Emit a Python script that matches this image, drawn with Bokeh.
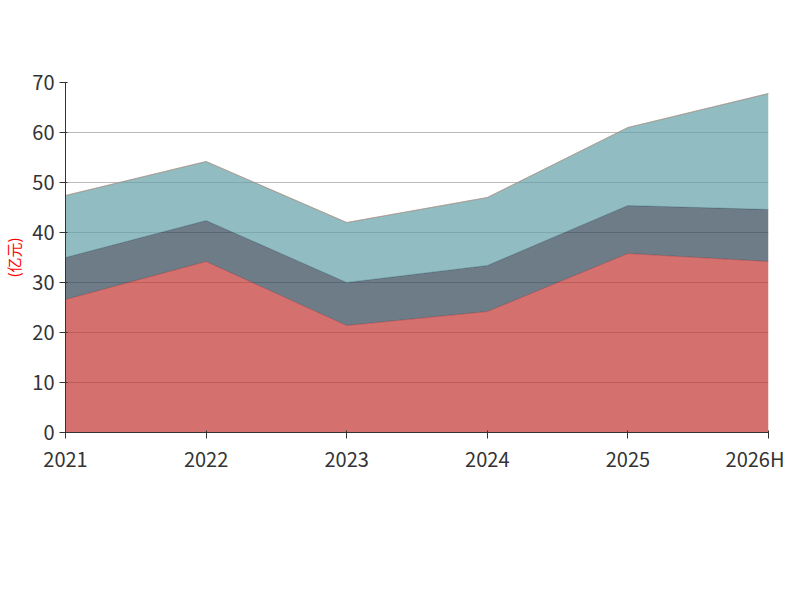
from bokeh.plotting import figure
from bokeh.models import Legend, LegendItem, Label, Range1d, FixedTicker
from bokeh.embed import file_html
from bokeh.resources import INLINE

years = ["2021", "2022", "2023", "2024", "2025", "2026H"]
kucun = [26.6, 34.2, 21.4, 24.2, 35.8, 34.2]
yuancailiao = [8.4, 8.2, 8.6, 9.2, 9.6, 10.4]
zaichanpin = [12.4, 11.8, 12.0, 13.6, 15.6, 23.2]
zhouzhuan = [0.0, 0.0, 0.0, 0.0, 0.0, 0.0]
names = ["库存商品", "原材料", "在产品", "周转材料"]
colors = ["#c23531", "#2f4554", "#61a0a8", "#d48265"]

x = list(range(len(years)))
font = "Noto Sans CJK SC"

p = figure(width=784, height=584, output_backend="svg", toolbar_location=None,
           x_range=Range1d(0, 5), y_range=Range1d(0, 70),
           min_border_left=60, min_border_right=16, min_border_top=82, min_border_bottom=152)
p.outline_line_color = None

series = [kucun, yuancailiao, zaichanpin, zhouzhuan]
base = [0.0] * len(x)
for vals, c in zip(series, colors):
    top = [b + v for b, v in zip(base, vals)]
    p.varea(x=x, y1=base, y2=top, fill_color=c, fill_alpha=0.7)
    p.line(x=x, y=top, line_color=c, line_alpha=0.5, line_width=1)
    base = top

p.add_layout(Label(x=332, y=414, x_units="screen", y_units="screen", text="近年存货变化堆积图",
                   text_align="center", text_baseline="middle", text_font=font,
                   text_font_size="30px", text_font_style="bold", text_color="#333333"))
p.add_layout(Label(x=332, y=-150, x_units="screen", y_units="screen", text="制图数据来自恒生聚源数据库",
                   text_align="center", text_baseline="middle", text_font=font,
                   text_font_size="15px", text_color="#c8941e"))

items = []
for n, c in zip(names, colors):
    r1 = p.line(x=[float("nan")], y=[float("nan")], line_color=c, line_width=2)
    r2 = p.scatter(x=[float("nan")], y=[float("nan")], size=22, fill_color=c, line_color=c)
    items.append(LegendItem(label=n, renderers=[r1, r2]))
legend = Legend(items=items, orientation="horizontal", label_text_font=font,
                label_text_font_size="20px", label_text_color="#333333",
                glyph_width=50, glyph_height=24, spacing=22, border_line_color=None,
                background_fill_alpha=0, location=(8, -112), padding=4, margin=0)
p.add_layout(legend)

p.yaxis.ticker = FixedTicker(ticks=list(range(0, 71, 10)))
p.xaxis.ticker = FixedTicker(ticks=x)
p.xaxis.major_label_overrides = {i: y for i, y in enumerate(years)}
for ax in (p.xaxis, p.yaxis):
    ax.major_label_text_font = font
    ax.major_label_text_font_size = "20px"
    ax.major_label_text_color = "#333333"
    ax.axis_line_color = "#333333"
    ax.major_tick_line_color = "#333333"
    ax.minor_tick_line_color = None
p.yaxis.axis_label = "(亿元)"
p.yaxis.axis_label_text_color = "red"
p.yaxis.axis_label_text_font = font
p.yaxis.axis_label_text_font_style = "normal"
p.yaxis.axis_label_text_font_size = "15px"
p.xgrid.grid_line_color = None
p.ygrid.grid_line_color = "#bbbbbb"

open("out.html", "w").write(file_html(p, INLINE))
